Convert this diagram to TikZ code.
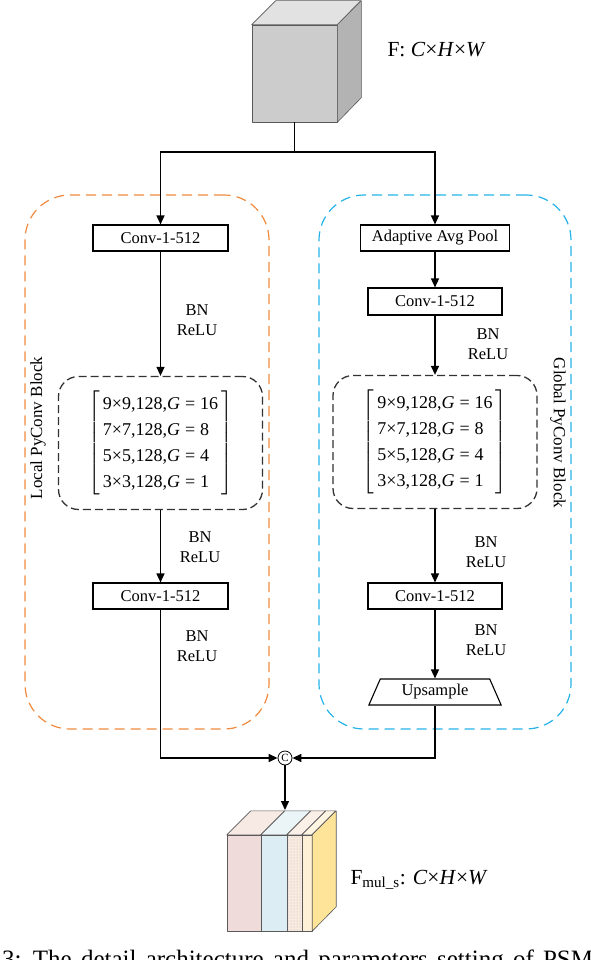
\documentclass[tikz,border=0pt]{standalone}
\usepackage{fontspec}
\setmainfont{Liberation Serif}
\usepackage{amsmath}
\usetikzlibrary{positioning, arrows.meta, calc, shapes.geometric, patterns}

\definecolor{localorange}{HTML}{F08A3E}
\definecolor{globalblue}{HTML}{25B3E8}
\definecolor{cubefront}{HTML}{CCCCCC}
\definecolor{cubetop}{HTML}{E2E2E2}
\definecolor{cubeside}{HTML}{B3B3B3}
\definecolor{slicepink}{HTML}{EFDCDA}
\definecolor{slicepinktop}{HTML}{F7EAE4}
\definecolor{sliceblue}{HTML}{DCEEF4}
\definecolor{slicebluetop}{HTML}{EBF5F7}
\definecolor{slicepeach}{HTML}{F8EADF}
\definecolor{slicepeachtop}{HTML}{FAF0E8}
\definecolor{slicecream}{HTML}{FDF0D6}
\definecolor{slicecreamtop}{HTML}{FEF5E2}
\definecolor{sideyellow}{HTML}{FDE498}
\newcommand{\CHW}{\textit{C}×\textit{H}×\textit{W}}

\begin{document}
\begin{tikzpicture}[
  x=1pt, y=-1pt,
  font=\fontsize{16.5}{20}\selectfont,
  >={Triangle[length=9pt,width=8pt]}
]
% -------------------- Styles --------------------
\tikzset{
  convbox/.style={
    draw, line width=1.1pt, inner sep=0pt,
    minimum width=135pt, minimum height=26pt
  },
  pyconv/.style={
    draw=black!80, line width=1.3pt, dash pattern=on 8pt off 4pt,
    rounded corners=20pt, inner sep=0pt,
    minimum width=204pt, minimum height=133pt,
    font=\fontsize{18}{22}\selectfont
  },
  blockframe/.style={
    line width=1.2pt, dash pattern=on 10pt off 6pt,
    rounded corners=45pt, minimum height=534pt
  },
  bnrelu/.style={align=center, inner sep=0pt},
  arrow/.style={->, line width=1.3pt},
  wire/.style={line width=1.3pt},
  face/.style={draw=black!65, line width=0.6pt, line join=round}
}
\newcommand{\pyrows}{%
  $\renewcommand{\arraystretch}{1.18}\left[\begin{array}{@{\,}l@{\,}}
    \text{9×9,128,\textit{G}\;=\;16}\\
    \text{7×7,128,\textit{G}\;=\;8}\\
    \text{5×5,128,\textit{G}\;=\;4}\\
    \text{3×3,128,\textit{G}\;=\;1}
  \end{array}\right]$}

\useasboundingbox (0,0) rectangle (590,960);

% -------------------- Input feature map --------------------
\node[face, fill=cubefront, minimum width=85pt, minimum height=97pt, inner sep=0pt]
  (fmap) at (294.5,73.5) {};
\draw[face, fill=cubetop] (fmap.north west) -- ++(24,-24) -- ++(85,0) -- (fmap.north east) -- cycle;
\draw[face, fill=cubeside] (fmap.north east) -- ++(24,-24) -- ++(0,97) -- (fmap.south east) -- cycle;
\node[anchor=west, font=\fontsize{21.5}{24}\selectfont] (fin) at (384,50) {F: \CHW};

% -------------------- Block frames --------------------
\node[blockframe, draw=localorange, minimum width=244pt] (local) at (147,462) {};
\node[blockframe, draw=globalblue, minimum width=252pt] (global) at (445,462) {};
\node[rotate=90, font=\fontsize{17}{20}\selectfont] (localtxt) at (38,428) {Local PyConv Block};
\node[rotate=-90, font=\fontsize{17}{20}\selectfont] (globaltxt) at (558,433) {Global PyConv Block};

% -------------------- Local branch --------------------
\node[convbox] (lconv1) at (160.5,238) {Conv-1-512};
\node[pyconv] (lpy) at (160.5,443) {\pyrows};
\node[convbox] (lconv2) at (160.5,596) {Conv-1-512};
\node[bnrelu] (lbn1) at (197,320) {BN\\ReLU};
\node[bnrelu] (lbn2) at (200,547) {BN\\ReLU};
\node[bnrelu] (lbn3) at (197,646) {BN\\ReLU};

% -------------------- Global branch --------------------
\node[convbox, minimum width=149pt] (pool) at (435,238) {Adaptive Avg Pool};
\node[convbox, minimum width=134pt, minimum height=27pt] (rconv1) at (435,301.5) {Conv-1-512};
\node[pyconv] (rpy) at (435,442) {\pyrows};
\node[convbox, minimum width=134pt] (rconv2) at (435,596) {Conv-1-512};
\node[draw, line width=1.1pt, trapezium, trapezium stretches=true,
      trapezium left angle=65, trapezium right angle=65, inner sep=0pt,
      minimum width=133pt, minimum height=26pt] (ups) at (435,692) {Upsample};
\node[bnrelu] (rbn1) at (488,344) {BN\\ReLU};
\node[bnrelu] (rbn2) at (486,552) {BN\\ReLU};
\node[bnrelu] (rbn3) at (486,640) {BN\\ReLU};

% -------------------- Concat + output --------------------
\node[circle, draw, line width=0.8pt, minimum size=14pt, inner sep=0pt,
      font=\fontsize{11}{11}\selectfont] (concat) at (285,758) {C};
\coordinate (split) at (294.5,152);
\coordinate (outtop) at (285,810);

\node[minimum width=85pt, minimum height=96pt, inner sep=0pt] (fout) at (269.5,883) {};
\foreach \xa/\xb/\fc/\tc in {0/34/slicepink/slicepinktop, 34/60/sliceblue/slicebluetop,
                             60/75/slicepeach/slicepeachtop, 75/85/slicecream/slicecreamtop} {
  \draw[face, fill=\fc] ($(fout.south west)+(\xa,0)$) rectangle ($(fout.north west)+(\xb,0)$);
  \draw[face, fill=\tc] ($(fout.north west)+(\xa,0)$) -- ++(24,-24)
    -- ($(fout.north west)+(\xb+24,-24)$) -- ($(fout.north west)+(\xb,0)$) -- cycle;
}
\fill[pattern=dots, pattern color=black!25]
  ($(fout.south west)+(60.5,-0.5)$) rectangle ($(fout.north west)+(74.5,0.5)$);
\draw[face, fill=sideyellow] (fout.north east) -- ++(24,-24) -- ++(0,96) -- (fout.south east) -- cycle;
\node[anchor=west, font=\fontsize{21.5}{24}\selectfont] (fouttxt) at (347,880)
  {F\textsubscript{mul\_s}: \CHW};

% -------------------- Connectors --------------------
\draw[wire] (fmap.south) -- (split);
\draw[arrow] (split) -| (lconv1);
\draw[arrow] (split) -| (pool);
\draw[arrow] (lconv1) -- (lpy);
\draw[arrow] (lpy) -- (lconv2);
\draw[arrow] (lconv2) |- (concat);
\draw[arrow] (pool) -- (rconv1);
\draw[arrow] (rconv1) -- (rpy);
\draw[arrow] (rpy) -- (rconv2);
\draw[arrow] (rconv2) -- (ups);
\draw[arrow] (ups) |- (concat);
\draw[arrow] (concat) -- (outtop);

% caption, cut by the page edge
\node[anchor=base west, inner sep=0pt, font=\fontsize{25}{30}\selectfont] (caption) at (2,967.5)
  {\spaceskip=9.2pt 3: The detail architecture and parameters setting of PSM};

\end{tikzpicture}
\end{document}
